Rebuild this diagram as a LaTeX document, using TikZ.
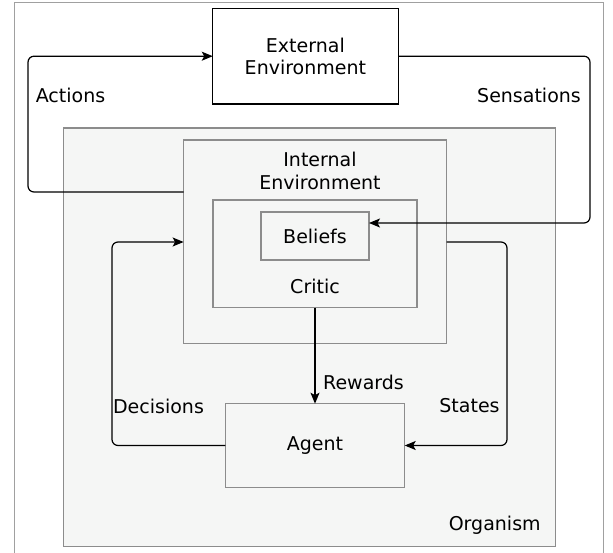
\documentclass[tikz,border=0pt]{standalone}
\usepackage{fontspec}
\setmainfont{DejaVu Sans}
\usetikzlibrary{arrows.meta}
\definecolor{boxfill}{HTML}{F5F6F5}
\definecolor{boxline}{HTML}{8C8C8C}
\definecolor{frameline}{HTML}{A0A0A0}
\tikzset{
  greybox/.style={draw=boxline, fill=boxfill, line width=1.1pt, inner sep=0pt, outer sep=0pt},
  whitebox/.style={draw=black, fill=white, line width=1.1pt, inner sep=0pt, outer sep=0pt, align=center},
  txt/.style={inner sep=0pt, outer sep=0pt, align=center},
  flow/.style={draw=black, line width=1.2pt, rounded corners=6pt},
  tip/.style={-{Stealth[length=11pt,width=9pt,inset=2.5pt]}},
}
\begin{document}
\begin{tikzpicture}[x=1pt,y=-1pt,font=\fontsize{19}{22.5}\selectfont]
\useasboundingbox (0,0) rectangle (613,553);
\fill[white] (0,0) rectangle (613,553);
\draw[frameline, line width=1pt] (14.3,600) -- (14.3,2.7) -- (603,2.7) -- (603,600);
% boxes
\node[whitebox, minimum width=185.3pt, minimum height=95.7pt] (ext) at (305.4,56.2) {External\\Environment};
\node[greybox, minimum width=491.7pt, minimum height=418.7pt] (org) at (309.2,337.4) {};
\node[greybox, minimum width=263pt, minimum height=203.7pt] (int) at (315.1,241.9) {};
\node[greybox, minimum width=204pt, minimum height=107.7pt] (crit) at (315,253.9) {};
\node[greybox, minimum width=108pt, minimum height=48pt] (bel) at (315,236) {Beliefs};
\node[greybox, minimum width=179.4pt, minimum height=83.6pt] (agent) at (315,445.5) {Agent};
% box texts
\node[txt] (inttxt) at (320,171) {Internal\\Environment};
\node[txt] (crittxt) at (315,286) {Critic};
\node[txt] (orgtxt) at (494.7,525) {Organism};
% connectors
\coordinate (actL) at (28,0);
\coordinate (senR) at (590,0);
\coordinate (decL) at (112,0);
\coordinate (staR) at (507,0);
\draw[flow, tip] (int.west |- 0,192) -- (actL |- 0,192) -- (actL |- ext.west) -- (ext.west);
\draw[flow, tip] (ext.east) -- (senR |- ext.east) -- (senR |- 0,223) -- (bel.east |- 0,223);
\draw[flow, tip] (agent.west) -- (decL |- agent.west) -- (decL |- 0,242) -- (int.west |- 0,242);
\draw[flow, tip] (int.east |- 0,242) -- (staR |- 0,242) -- (staR |- agent.east) -- (agent.east);
\draw[flow, tip] (crit.south) -- (agent.north);
% labels
\node[txt] (lact) at (70.5,95) {Actions};
\node[txt] (lsen) at (529,95) {Sensations};
\node[txt] (ldec) at (158.5,406) {Decisions};
\node[txt] (lsta) at (469.5,406) {States};
\node[txt] (lrew) at (363.5,382) {Rewards};
\end{tikzpicture}
\end{document}
